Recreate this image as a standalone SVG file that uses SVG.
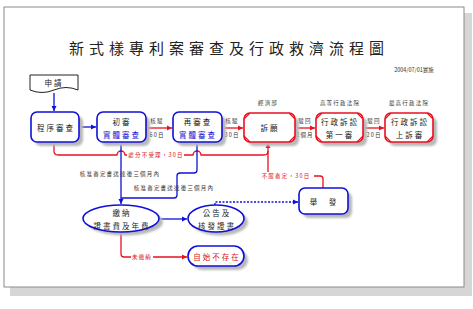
<svg xmlns="http://www.w3.org/2000/svg" width="473" height="309" viewBox="0 0 473 309">
<style>
text{font-family:"Noto Sans CJK TC","Noto Sans CJK SC",sans-serif;text-anchor:middle;dominant-baseline:central}
.t{font-size:7.5px;letter-spacing:2px;fill:#222}
.tb{font-size:7.5px;letter-spacing:2px;fill:#1010d0}
.tr{font-size:7.5px;letter-spacing:2px;fill:#e01020}
.s{font-size:5.5px;letter-spacing:1.2px;fill:#333}
.sr{font-size:5.5px;letter-spacing:1.2px;fill:#e01020}
.bn{fill:#fff;stroke:#1010d8;stroke-width:1.6}
.rn{fill:#fff;stroke:#e81020;stroke-width:1.6}
.sh{fill:#b8b8b8;filter:url(#blur)}
.cb{fill:none;stroke:#1010d8;stroke-width:1.3}
.cr{fill:none;stroke:#e81020;stroke-width:1.3}
.corner{stroke:#e81020;stroke-width:1.1;fill:none}
</style>
<defs>
<filter id="blur" x="-20%" y="-20%" width="140%" height="140%"><feGaussianBlur stdDeviation="1.2"/></filter>
<marker id="ab" markerWidth="6" markerHeight="6" refX="5" refY="3" orient="auto" markerUnits="userSpaceOnUse"><path d="M0,0.5 L5,3 L0,5.5 Z" fill="#1010d8"/></marker>
<marker id="ar" markerWidth="6" markerHeight="6" refX="5" refY="3" orient="auto" markerUnits="userSpaceOnUse"><path d="M0,0.5 L5,3 L0,5.5 Z" fill="#e81020"/></marker>
</defs>
<rect x="10" y="13" width="462" height="283" fill="#d6d6d6"/>
<rect x="4" y="7" width="460" height="280" fill="#fff" stroke="#8a8a8a" stroke-width="1"/>
<text x="229" y="47" style="font-size:15px;letter-spacing:5px;fill:#222">新式樣專利案審查及行政救濟流程圖</text>
<text x="414" y="70" style="font-size:5.5px;fill:#333">2004/07/01實施</text>
<text x="268" y="103" class="s">經濟部</text>
<text x="340" y="103" class="s">高等行政法院</text>
<text x="409" y="103" class="s">最高行政法院</text>

<g id="connectors">
<path class="cb" d="M54,93 V111" marker-end="url(#ab)"/>
<path class="cb" d="M79,127 H96" marker-end="url(#ab)"/>
<path class="cr" d="M146,128 H172" marker-end="url(#ar)"/>
<path class="cr" d="M222,128 H243" marker-end="url(#ar)"/>
<path class="cr" d="M295,128 H315" marker-end="url(#ar)"/>
<path class="cr" d="M363,128 H384" marker-end="url(#ar)"/>
<path class="cr" d="M54,142 V151 Q54,155 58,155 H117 A4,4 0 0 1 125,155 H193 A4,4 0 0 1 201,155 H264 Q268,155 268,151"/>
<path class="cr" d="M323,188 V179 Q323,176 320,176 H268 V143" marker-end="url(#ar)"/>
<path class="cb" d="M121,142 V204" marker-end="url(#ab)"/>
<path class="cb" d="M197,142 V170 Q197,173 194,173 H180 Q177,173 177,176 V195 Q177,198 174,198 H121"/>
<path class="cb" d="M159,219 H187" marker-end="url(#ab)"/>
<path class="cb" d="M215,205 V202 H298" stroke-dasharray="2,1.5" marker-end="url(#ab)"/>
<path class="cr" d="M121,232 V254 Q121,257 124,257 H187" marker-end="url(#ar)"/>
<text x="157" y="121" class="s">核駁</text>
<text x="157" y="135" class="s">60日</text>
<text x="232" y="121" class="s">核駁</text>
<text x="232" y="135" class="s">30日</text>
<text x="305" y="121" class="s">駁回</text>
<text x="305" y="135" class="s">2個月</text>
<text x="374" y="121" class="s">駁回</text>
<text x="374" y="135" class="s">20日</text>
<rect x="127" y="151" width="57" height="8" fill="#fff"/>
<text x="156" y="155" class="sr">處分不受理，30日</text>
<rect x="258" y="172" width="56" height="8" fill="#fff"/>
<text x="286" y="176" class="sr">不服審定，30日</text>
<text x="120" y="174" class="s">核准審定書送達後三個月內</text>
<text x="174" y="188" class="s">核准審定書送達後三個月內</text>
<rect x="131" y="253" width="22" height="8" fill="#fff"/>
<text x="142" y="257" class="sr">未繳納</text>
</g>

<g id="apply">
<path d="M30,75 H78 V90 Q66,85 54,90 Q42,95 30,90 Z" fill="#fff" stroke="#222" stroke-width="1"/>
<text x="54" y="82" class="t">申請</text>
</g>
<g id="formal">
<rect class="sh" x="35" y="116" width="48" height="30" rx="6"/>
<rect class="bn" x="31" y="112" width="48" height="30" rx="6"/>
<text x="56" y="127" class="t">程序審查</text>
</g>
<g id="first">
<rect class="sh" x="101" y="116" width="49" height="30" rx="6"/>
<rect class="bn" x="97" y="112" width="49" height="30" rx="6"/>
<text x="122" y="121" class="t">初審</text>
<text x="122" y="134" class="tb">實體審查</text>
</g>
<g id="reexam">
<rect class="sh" x="177" y="116" width="49" height="30" rx="6"/>
<rect class="bn" x="173" y="112" width="49" height="30" rx="6"/>
<text x="198" y="121" class="t">再審查</text>
<text x="198" y="134" class="tb">實體審查</text>
</g>
<g id="appeal">
<rect class="sh" x="248" y="117" width="51" height="29" rx="6"/>
<rect class="rn" x="244" y="113" width="51" height="29" rx="6"/>
<path class="corner" d="M244,119 L250,113 M289,113 L295,119 M244,136 L250,142 M289,142 L295,136"/>
<text x="270" y="127.5" class="t">訴願</text>
</g>
<g id="court1">
<rect class="sh" x="320" y="117" width="47" height="29" rx="6"/>
<rect class="rn" x="316" y="113" width="47" height="29" rx="6"/>
<path class="corner" d="M316,119 L322,113 M357,113 L363,119 M316,136 L322,142 M357,142 L363,136"/>
<text x="340" y="121" class="t">行政訴訟</text>
<text x="340" y="134" class="t">第一審</text>
</g>
<g id="court2">
<rect class="sh" x="389" y="117" width="48" height="29" rx="6"/>
<rect class="rn" x="385" y="113" width="48" height="29" rx="6"/>
<path class="corner" d="M385,119 L391,113 M427,113 L433,119 M385,136 L391,142 M427,142 L433,136"/>
<text x="410" y="121" class="t">行政訴訟</text>
<text x="410" y="134" class="t">上訴審</text>
</g>
<g id="fee">
<ellipse class="sh" cx="125" cy="222" rx="38" ry="13.5"/>
<ellipse class="bn" cx="121" cy="218.5" rx="38" ry="13.5"/>
<text x="122" y="212" class="t">繳納</text>
<text x="122" y="225" class="t">證書費及年費</text>
</g>
<g id="publish">
<ellipse class="sh" cx="220" cy="222" rx="28" ry="13.5"/>
<ellipse class="bn" cx="216" cy="218.5" rx="28" ry="13.5"/>
<text x="217" y="212" class="t">公告及</text>
<text x="217" y="225" class="t">核發證書</text>
</g>
<g id="invalid">
<rect class="sh" x="192" y="250" width="56" height="20" rx="10"/>
<rect class="bn" x="188" y="246" width="56" height="20" rx="10"/>
<text x="217" y="256" class="tr">自始不存在</text>
</g>
<g id="invalidation">
<rect class="sh" x="303" y="192" width="49" height="26" rx="6"/>
<rect class="bn" x="299" y="188" width="49" height="26" rx="6"/>
<text x="324" y="201" class="t">舉　發</text>
</g>
</svg>
